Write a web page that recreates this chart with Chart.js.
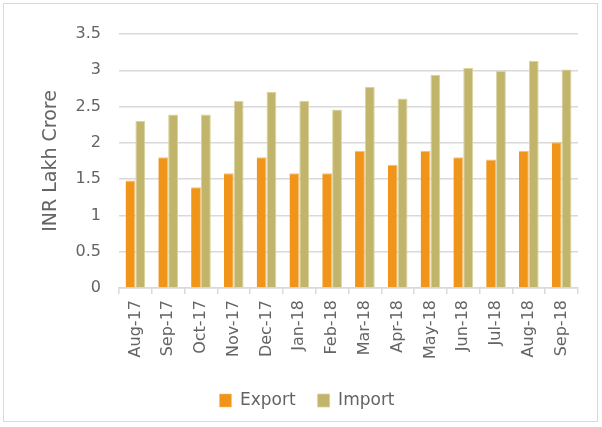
<!DOCTYPE html>
<html>
<head>
<meta charset="utf-8">
<script src="https://cdn.jsdelivr.net/npm/chart.js@4/dist/chart.umd.min.js"></script>
<style>
    html, body { margin: 0; padding: 0; background: #fff; }
    #frame {
        position: absolute;
        left: 3px;
        top: 3px;
        width: 595px;
        height: 419px;
        border: 1px solid #d9d9d9;
        box-sizing: border-box;
        pointer-events: none;
    }
    canvas { display: block; position: absolute; left: 0; top: 0; }
</style>
</head>
<body>
<canvas id="trade-chart" width="602" height="427"></canvas>
<div id="frame"></div>
<script>
const months = ['Aug-17', 'Sep-17', 'Oct-17', 'Nov-17', 'Dec-17', 'Jan-18', 'Feb-18',
    'Mar-18', 'Apr-18', 'May-18', 'Jun-18', 'Jul-18', 'Aug-18', 'Sep-18'];
const exportValues = [1.48, 1.80, 1.39, 1.58, 1.80, 1.58, 1.58, 1.89, 1.70, 1.89, 1.80, 1.77, 1.89, 2.01];
const importValues = [2.30, 2.39, 2.39, 2.58, 2.70, 2.58, 2.46, 2.77, 2.61, 2.94, 3.03, 2.99, 3.13, 3.01];
const yTicks = [0, 0.5, 1, 1.5, 2, 2.5, 3, 3.5];

const textColor = '#646464';
const gridColor = '#d9d9d9';
const fontFamily = 'DejaVu Sans, sans-serif';

const canvas = document.getElementById('trade-chart');

// eslint-disable-next-line no-new
new Chart(canvas, {
    type: 'bar',
    data: {
        labels: months,
        datasets: [
            {
                label: 'Export',
                data: exportValues,
                backgroundColor: '#f0951a',
                borderColor: '#f6bf74',
                borderWidth: { left: 0, right: 1, top: 1, bottom: 0 },
                categoryPercentage: 0.6,
                barPercentage: 1,
            },
            {
                label: 'Import',
                data: importValues,
                backgroundColor: '#c1b46b',
                borderColor: '#dcd29e',
                borderWidth: { left: 1, right: 1, top: 1, bottom: 0 },
                categoryPercentage: 0.6,
                barPercentage: 1,
            },
        ],
    },
    options: {
        responsive: false,
        animation: false,
        layout: {
            padding: { left: 36, right: 24, top: 34, bottom: 8 },
        },
        plugins: {
            legend: {
                display: true,
                position: 'bottom',
                labels: {
                    boxWidth: 12,
                    boxHeight: 13,
                    padding: 22,
                    color: textColor,
                    font: { family: fontFamily, size: 17 },
                },
            },
            tooltip: { enabled: false },
        },
        scales: {
            x: {
                afterFit(axis) {
                    axis.height = 82;
                },
                grid: {
                    display: true,
                    drawOnChartArea: false,
                    drawTicks: true,
                    tickLength: 6,
                    color: gridColor,
                    lineWidth: 1.5,
                },
                border: { color: gridColor, width: 1.5 },
                ticks: {
                    minRotation: 90,
                    maxRotation: 90,
                    autoSkip: false,
                    padding: 6,
                    color: textColor,
                    font: { family: fontFamily, size: 16 },
                },
            },
            y: {
                min: 0,
                max: 3.5,
                afterBuildTicks(axis) {
                    axis.ticks = yTicks.map((value) => ({ value }));
                },
                afterFit(axis) {
                    axis.width = 83;
                },
                grid: {
                    color: gridColor,
                    lineWidth: 1.5,
                    drawTicks: false,
                },
                border: { display: false },
                ticks: {
                    padding: 18,
                    color: textColor,
                    font: { family: fontFamily, size: 16 },
                    callback(value) {
                        return String(value);
                    },
                },
                title: {
                    display: true,
                    text: 'INR Lakh Crore',
                    color: textColor,
                    font: { family: fontFamily, size: 19 },
                    padding: { top: 4, bottom: 0 },
                },
            },
        },
    },
});
</script>
</body>
</html>
